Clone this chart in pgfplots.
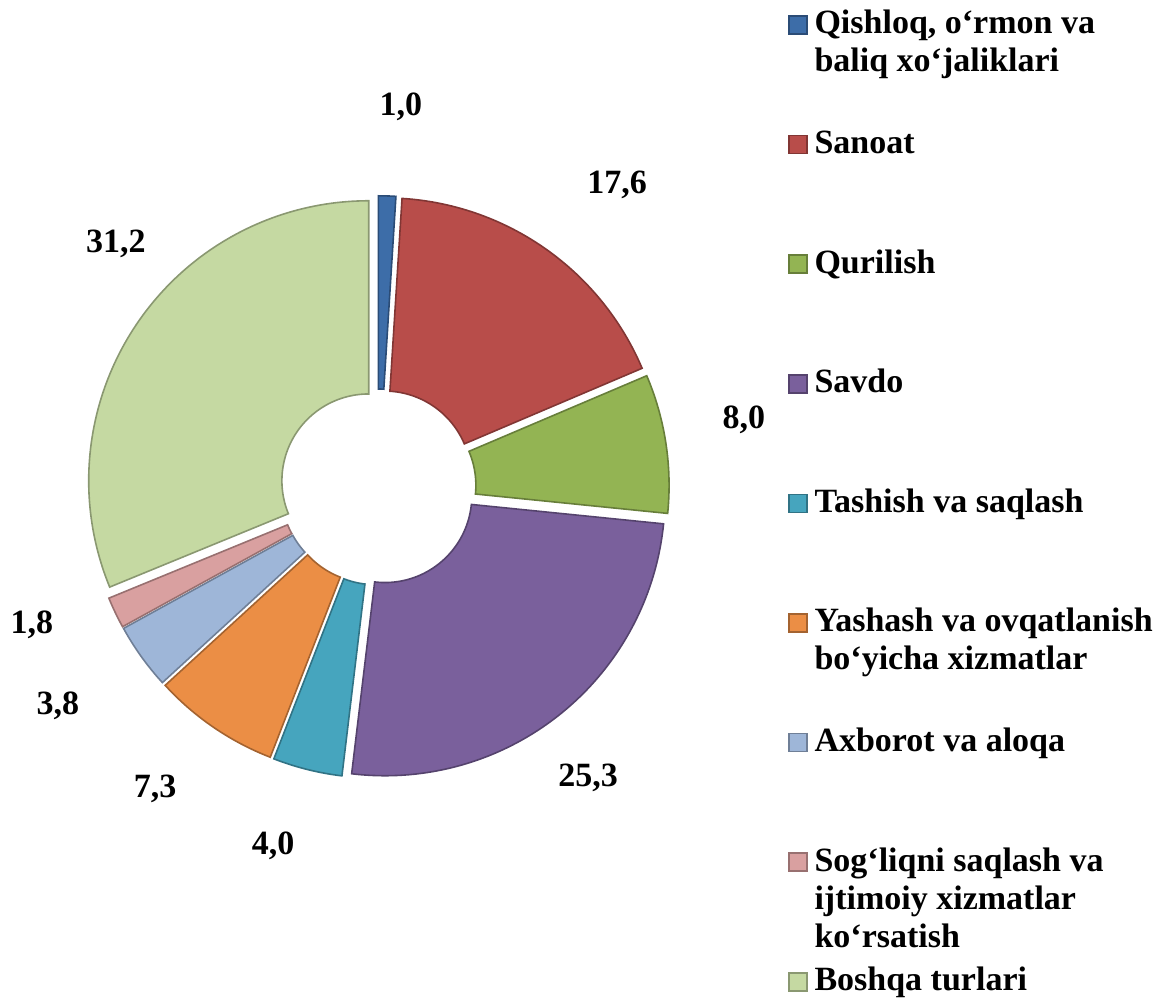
\documentclass[border=0pt]{standalone}
\usepackage{pgfplots}
\pgfplotsset{compat=1.18}
\usepackage{pgfplotstable}
\usepackage{fontspec}
\setmainfont{Liberation Serif}
\definecolor{col0}{HTML}{3D6DA8}
\definecolor{col1}{HTML}{B84D4A}
\definecolor{col2}{HTML}{93B453}
\definecolor{col3}{HTML}{7A609C}
\definecolor{col4}{HTML}{46A5BE}
\definecolor{col5}{HTML}{EB8E45}
\definecolor{col6}{HTML}{9EB6D8}
\definecolor{col7}{HTML}{D9A0A0}
\definecolor{col8}{HTML}{C5D9A2}
\newcommand\lf{\fontsize{17}{19}\selectfont\bfseries}
\newcommand\ent[1]{\begin{tabular}[t]{@{}l@{}}#1\end{tabular}}
\pgfplotstableread{
v lx ly
1.0 0.082 1.357
17.6 0.854 1.079
8.0 1.307 0.239
25.3 0.750 -1.039
4.0 -0.375 -1.282
7.3 -0.796 -1.079
3.8 -1.143 -0.782
1.8 -1.236 -0.493
31.2 -0.936 0.868
}\donut
\def\Ro{1}\def\Ri{0.31}\def\Ex{0.04}
\begin{document}
\begin{tikzpicture}
\xdef\cum{0}
\foreach \i in {0,...,8}{%
  \pgfplotstablegetelem{\i}{v}\of\donut
  \pgfmathsetmacro\va{90-3.6*\cum}%
  \pgfmathsetmacro\vc{\cum+\pgfplotsretval}%
  \pgfmathsetmacro\vb{90-3.6*\vc}%
  \expandafter\xdef\csname sa\i\endcsname{\va}%
  \expandafter\xdef\csname sb\i\endcsname{\vb}%
  \xdef\cum{\vc}%
}
\begin{axis}[
  x=140pt, y=140pt,
  xmin=-1.35, xmax=2.8357, ymin=-1.8286, ymax=1.7393,
  axis lines=box, axis line style={draw=none}, xtick=\empty, ytick=\empty,
  clip=false,
  legend image code/.code={\filldraw[#1] (0pt,0pt) rectangle (9pt,9pt);},
  legend style={at={(axis cs:1.464,1.718)}, anchor=north west, draw=none, fill=none,
    inner sep=0pt, outer sep=0pt, row sep=43.8pt, column sep=3.5pt,
    cells={anchor=base west},
    nodes={inner sep=0pt, text height=14pt, text depth=2pt, font=\lf}},
]
\pgfplotsinvokeforeach{0,...,8}{%
 \edef\A{\csname sa#1\endcsname}\edef\B{\csname sb#1\endcsname}%
 \pgfmathsetmacro\M{((\A)+(\B))/2}%
 \edef\tmp{\noexpand\addplot[fill=col#1, draw=col#1!70!black, line width=0.8pt, domain=0:201, samples=202, variable=\noexpand\t, mark=none]
   ({\Ex*cos(\M)+(\noexpand\t<100.5 ? \Ro*cos((\A)+((\B)-(\A))*\noexpand\t/100) : \Ri*cos((\B)-((\B)-(\A))*(\noexpand\t-101)/100))},
    {\Ex*sin(\M)+(\noexpand\t<100.5 ? \Ro*sin((\A)+((\B)-(\A))*\noexpand\t/100) : \Ri*sin((\B)-((\B)-(\A))*(\noexpand\t-101)/100))}) -- cycle;}%
 \tmp
}
\addplot[draw=none, mark=none, point meta=explicit,
  nodes near coords={\lf\pgfmathprintnumber[fixed, fixed zerofill, precision=1, use comma, assume math mode=true]{\pgfplotspointmeta}},
  every node near coord/.append style={font=\lf, anchor=center, text=black}]
  table[x=lx, y=ly, meta=v]{\donut};
\legend{{\ent{Qishloq, o‘rmon va\\baliq xo‘jaliklari}},
  {\ent{Sanoat}},
  {\ent{Qurilish}},
  {\ent{Savdo}},
  {\ent{Tashish va saqlash}},
  {\ent{Yashash va ovqatlanish\\bo‘yicha xizmatlar}},
  {\ent{Axborot va aloqa}},
  {\ent{Sog‘liqni saqlash va\\ijtimoiy xizmatlar\\ko‘rsatish}},
  {\ent{Boshqa turlari}}}
\end{axis}
\end{tikzpicture}
\end{document}
